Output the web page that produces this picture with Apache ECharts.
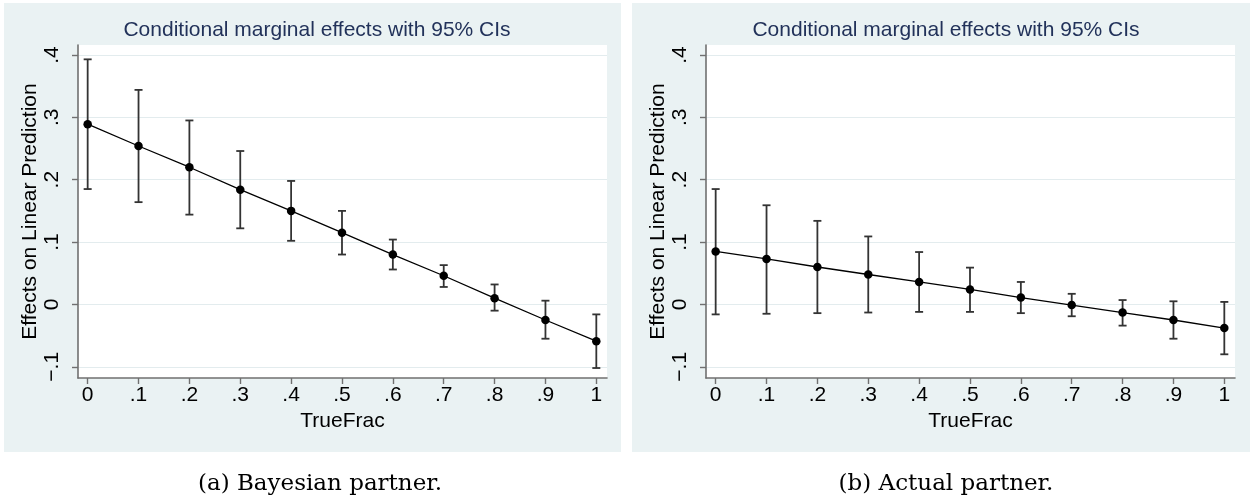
<!DOCTYPE html>
<html>
<head>
<meta charset="utf-8">
<title>Conditional marginal effects</title>
<script src="https://cdn.jsdelivr.net/npm/echarts@6.0.0/dist/echarts.min.js"></script>
<style>
  html, body { margin: 0; padding: 0; background: #ffffff; }
  #chart { width: 1252px; height: 499px; }
</style>
</head>
<body>
<div id="chart"></div>
<script>
// TrueFrac levels at which the marginal effect is evaluated
const trueFrac = [0, 0.1, 0.2, 0.3, 0.4, 0.5, 0.6, 0.7, 0.8, 0.9, 1];

// (a) Bayesian partner: point estimates and 95% CI bounds
const bayesEffect = [0.289, 0.254, 0.220, 0.184, 0.150, 0.115, 0.080, 0.046, 0.010, -0.025, -0.059];
const bayesLower  = [0.185, 0.164, 0.144, 0.122, 0.102, 0.080, 0.056, 0.028, -0.010, -0.055, -0.102];
const bayesUpper  = [0.393, 0.344, 0.295, 0.246, 0.198, 0.150, 0.104, 0.063, 0.032, 0.006, -0.016];

// (b) Actual partner: point estimates and 95% CI bounds
const actualEffect = [0.085, 0.073, 0.060, 0.048, 0.036, 0.024, 0.011, -0.001, -0.013, -0.025, -0.038];
const actualLower  = [-0.016, -0.015, -0.014, -0.013, -0.012, -0.012, -0.014, -0.019, -0.034, -0.055, -0.080];
const actualUpper  = [0.185, 0.159, 0.134, 0.109, 0.084, 0.059, 0.036, 0.017, 0.007, 0.005, 0.004];

// Tick positions and texts
const xTicks = [0, 0.1, 0.2, 0.3, 0.4, 0.5, 0.6, 0.7, 0.8, 0.9, 1];
const yTicks = [-0.1, 0, 0.1, 0.2, 0.3, 0.4];

const panelTitle = 'Conditional marginal effects with 95% CIs';
const xName = 'TrueFrac';
const yName = 'Effects on Linear Prediction';
const captions = ['(a) Bayesian partner.', '(b) Actual partner.'];

const SANS = 'Liberation Sans, Arial, Helvetica, sans-serif';
const SERIF = 'DejaVu Serif, serif';
const REGION = '#eaf2f3';
const GRID = '#e3ecee';
const AXIS = '#707070';
const TITLE = '#22325a';

// Stata-style tick text: drop the leading zero, use a real minus sign
function tickText(v) {
  const r = Math.round(v * 10) / 10;
  if (Math.abs(r) < 1e-9) return '0';
  return String(r).replace('0.', '.').replace('-', '\u2212');
}

function xAxisFor(gridIndex) {
  return {
    type: 'value', gridIndex: gridIndex,
    min: -0.019, max: 1.021,
    name: xName, nameLocation: 'middle', nameGap: 29,
    nameTextStyle: { fontFamily: SANS, fontSize: 21, color: '#000' },
    axisLine: { show: true, onZero: false, lineStyle: { color: AXIS, width: 1.6 } },
    axisTick: { show: true, inside: false, length: 6, customValues: xTicks, lineStyle: { color: AXIS, width: 1.4 } },
    axisLabel: { customValues: xTicks, formatter: tickText, margin: 7, fontFamily: SANS, fontSize: 21, color: '#000' },
    splitLine: { show: false }
  };
}

function yAxisFor(gridIndex) {
  return {
    type: 'value', gridIndex: gridIndex,
    min: -0.118, max: 0.416,
    name: yName, nameLocation: 'middle', nameGap: 37, nameRotate: 90,
    nameTextStyle: { fontFamily: SANS, fontSize: 21, color: '#000' },
    axisLine: { show: true, onZero: false, lineStyle: { color: AXIS, width: 1.6 } },
    axisTick: { show: true, inside: false, length: 6, customValues: yTicks, lineStyle: { color: AXIS, width: 1.4 } },
    axisLabel: { customValues: yTicks, formatter: tickText, rotate: 90, margin: 15, fontFamily: SANS, fontSize: 21, color: '#000' },
    splitLine: { show: true, lineStyle: { color: GRID, width: 1.2 } }
  };
}

// Vertical CI bar with short caps at both ends
function ciBar(params, api) {
  const x = api.value(0);
  const lo = api.coord([x, api.value(1)]);
  const hi = api.coord([x, api.value(2)]);
  const half = 4;
  const style = { stroke: '#333333', lineWidth: 1.8 };
  return {
    type: 'group',
    children: [
      { type: 'line', shape: { x1: lo[0], y1: lo[1], x2: hi[0], y2: hi[1] }, style: style },
      { type: 'line', shape: { x1: lo[0] - half, y1: lo[1], x2: lo[0] + half, y2: lo[1] }, style: style },
      { type: 'line', shape: { x1: hi[0] - half, y1: hi[1], x2: hi[0] + half, y2: hi[1] }, style: style }
    ]
  };
}

function seriesFor(idx, effect, lower, upper) {
  return [
    {
      type: 'custom', xAxisIndex: idx, yAxisIndex: idx,
      renderItem: ciBar,
      encode: { x: 0, y: [1, 2] },
      data: trueFrac.map((x, i) => [x, lower[i], upper[i]]),
      z: 2, silent: true
    },
    {
      type: 'line', xAxisIndex: idx, yAxisIndex: idx,
      data: trueFrac.map((x, i) => [x, effect[i]]),
      symbol: 'circle', symbolSize: 8.5,
      itemStyle: { color: '#000' },
      lineStyle: { color: '#000', width: 1.3 },
      z: 3, silent: true, animation: false
    }
  ];
}

const chart = echarts.init(document.getElementById('chart'), null, { renderer: 'canvas' });

const titleText = { fontFamily: SANS, fontSize: 21, fontWeight: 'normal', color: TITLE };
const captionText = { fontFamily: SERIF, fontSize: 23, fontWeight: 'normal', color: '#000' };

chart.setOption({
  animation: false,
  backgroundColor: '#ffffff',
  graphic: [
    { type: 'rect', shape: { x: 4, y: 3, width: 617, height: 449 }, style: { fill: REGION }, z: -10 },
    { type: 'rect', shape: { x: 632, y: 3, width: 618, height: 449 }, style: { fill: REGION }, z: -10 }
  ],
  title: [
    { text: panelTitle, left: 312, top: 15, textAlign: 'center', textStyle: titleText },
    { text: panelTitle, left: 941, top: 15, textAlign: 'center', textStyle: titleText },
    { text: captions[0], left: 315, top: 468, textAlign: 'center', textStyle: captionText },
    { text: captions[1], left: 941, top: 468, textAlign: 'center', textStyle: captionText }
  ],
  grid: [
    { left: 78, top: 45, width: 529, height: 333, show: true, backgroundColor: '#ffffff', borderWidth: 0 },
    { left: 706, top: 45, width: 529, height: 333, show: true, backgroundColor: '#ffffff', borderWidth: 0 }
  ],
  xAxis: [xAxisFor(0), xAxisFor(1)],
  yAxis: [yAxisFor(0), yAxisFor(1)],
  series: []
    .concat(seriesFor(0, bayesEffect, bayesLower, bayesUpper))
    .concat(seriesFor(1, actualEffect, actualLower, actualUpper))
});
</script>
</body>
</html>
